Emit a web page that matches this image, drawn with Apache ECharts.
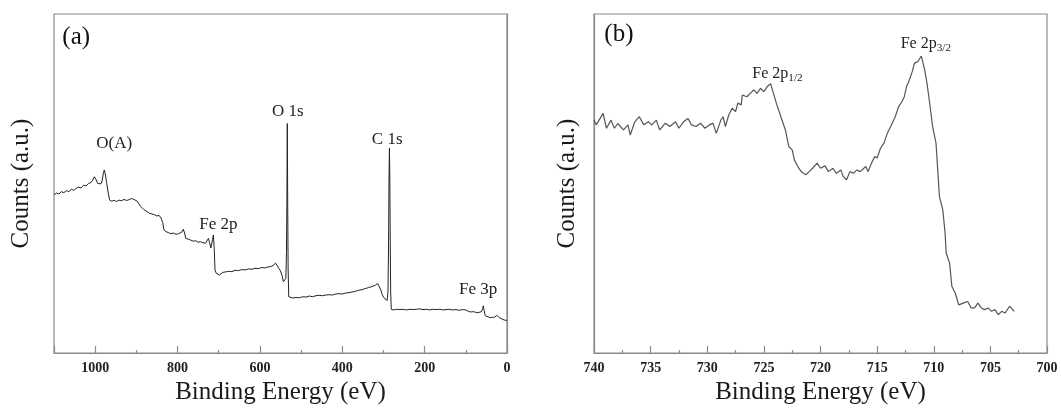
<!DOCTYPE html>
<html><head><meta charset="utf-8">
<script src="https://cdn.jsdelivr.net/npm/echarts@6/dist/echarts.min.js"></script>
<style>html,body{margin:0;padding:0;background:#fff}#c{width:1061px;height:410px}</style>
</head><body><div id="c"></div>
<script>
// Panel (a): XPS survey spectrum
const surveyEnergy = [1100,1094,1088,1082,1076,1070,1064,1058,1052,1046,1040,1034,1028,1022,1016,1010,1006,1002,998,994,990,986,983,980,978,975,972,968,965,960,954,948,942,936,930,924,918,912,906,902,898,894,890,886,882,878,874,868,862,856,850,845,840,836,833,828,822,816,810,804,798,794,790,786,783,780,774,768,762,756,750,744,738,732,728,725,722,719,717,715,713,711,709,706,702,698,694,690,684,676,668,660,652,644,636,628,620,612,604,596,588,580,574,568,562,558,554,550,546,543,540,537,535.5,534.5,533.5,532.5,531.5,530,526,520,512,504,496,488,480,472,464,456,448,440,432,424,416,408,400,392,384,376,368,360,352,344,336,328,320,314,310,306,303,299,295,291,289,287.5,286.5,285.5,284.5,283.5,282.5,281,276,268,260,252,244,236,228,220,212,204,196,188,180,172,164,156,148,140,132,124,116,108,100,94,88,82,76,70,66,62,59,57.5,55.5,53,50,45,40,35,30,27,25,22,18,14,10,6,3,0];
const surveyCounts = [46.6,47.2,46.9,47.6,47.3,47.9,47.6,48.3,48.0,48.6,48.9,48.7,49.5,49.3,50.0,50.3,51.0,52.0,51.2,50.0,49.6,49.9,50.8,53.2,54.0,52.5,50.0,47.0,45.1,44.8,45.0,44.7,45.1,44.9,45.3,45.0,45.2,45.6,45.3,45.6,44.8,44.0,43.3,43.0,42.3,42.0,41.7,41.2,41.0,40.8,40.4,40.6,39.8,38.5,36.3,35.8,35.5,35.2,35.4,35.0,35.2,35.0,35.6,36.5,35.4,33.8,33.6,33.3,33.0,33.1,32.7,32.8,32.5,32.4,32.1,33.8,32.5,31.0,31.5,33.5,34.8,31.0,24.5,23.5,23.6,23.0,23.4,23.8,23.9,24.1,24.0,24.4,24.3,24.6,24.5,24.8,24.7,25.0,24.9,25.2,25.1,25.4,25.5,25.8,26.5,26.0,25.0,24.2,22.8,21.0,21.5,22.0,30,44,67.7,44,25,16.6,16.1,16.2,16.4,16.3,16.6,16.5,16.8,16.6,16.9,17.0,16.9,17.1,17.2,17.1,17.4,17.5,17.4,17.7,17.8,18.0,18.2,18.5,18.7,19.0,19.3,19.6,20.0,20.5,20.3,18.5,17.2,16.3,16.0,15.5,18,33,51.6,60.4,51,33,18,12.9,12.7,12.9,12.8,12.9,12.7,12.9,12.8,12.9,13.0,12.8,12.9,12.7,12.9,12.8,12.9,12.7,12.8,12.9,12.7,12.8,12.6,12.8,12.7,12.3,12.1,12.2,12.0,11.9,11.9,12.2,13.2,13.9,12.5,11.0,10.5,10.6,10.4,10.6,10.5,10.9,11.1,10.6,10.4,10.2,9.9,9.9,9.6,9.7];

// Panel (b): Fe 2p high-resolution spectrum
const fe2pEnergy = [740.0,739.8,739.2,738.9,738.5,738.2,737.9,737.4,737.0,736.8,736.4,736.0,735.6,735.2,734.9,734.5,734.2,733.7,733.3,732.8,732.5,732.1,731.7,731.4,731.0,730.6,730.2,729.8,729.5,729.2,728.8,728.6,728.4,728.1,727.8,727.5,727.3,727.0,726.9,726.5,726.2,725.9,725.6,725.3,725.0,724.7,724.4,724.2,723.9,723.5,723.1,722.8,722.5,722.3,722.0,721.7,721.3,721.0,720.7,720.3,720.0,719.6,719.3,718.9,718.6,718.2,718.0,717.7,717.4,717.1,716.8,716.5,716.0,715.8,715.5,715.2,715.0,714.7,714.4,714.1,713.8,713.6,713.4,713.1,712.8,712.6,712.4,712.2,711.9,711.7,711.4,711.3,711.1,710.8,710.6,710.4,710.1,709.8,709.5,709.2,709.0,708.9,708.6,708.4,708.1,707.8,707.4,707.0,706.7,706.4,706.1,705.8,705.5,705.2,704.9,704.6,704.3,704.0,703.7,703.3,702.9];
const fe2pCounts = [68.7,67.3,70.7,66.3,68.7,66.3,67.7,65.8,67.3,64.3,68.2,69.7,67.3,68.2,67.3,68.7,65.8,67.8,66.8,68.2,66.3,68.2,69.2,67.3,66.8,67.8,66.3,67.3,67.8,64.8,68.7,69.7,66.8,70.2,72.2,71.2,73.7,73.2,76.1,75.6,76.6,77.6,76.6,78.1,77.1,78.6,79.4,77.1,73.7,69.7,65.8,60.9,59.9,56.9,55.0,53.5,52.6,53.5,54.5,56.0,54.5,55.2,53.5,54.5,53.0,54.0,52.1,51.1,53.5,53.0,54.0,53.5,55.0,53.5,56.0,58.0,57.5,60.4,61.9,64.8,66.8,68.3,69.7,72.7,74.2,75.6,78.6,80.1,83.0,85.5,86.0,86.4,87.6,83.5,79.6,74.7,66.8,61.9,46.2,42.2,35.4,29.5,26.5,19.6,17.7,14.2,14.7,15.2,13.3,13.3,14.7,13.3,12.8,13.3,12.3,12.8,11.3,12.3,11.8,13.8,12.3];

// Axis settings
const surveyRange = [0, 1100];
const surveyTickStep = 200;
const fe2pRange = [700, 740];
const fe2pTickStep = 5;
const xTitle = 'Binding Energy (eV)';
const yTitle = 'Counts (a.u.)';

// Peak annotations: [label, energy, counts]
const surveyNotes = [['(a)', 1046, 93.2, 'big'], ['O(A)', 954, 61.7], ['Fe 2p', 701, 37.8], ['O 1s', 532, 71.1], ['C 1s', 291, 63.1], ['Fe 3p', 70, 18.6]];
const fe2pNotes = [['(b)', 737.8, 94.1, 'big'], ['Fe 2p|1/2', 723.8, 82.3], ['Fe 2p|3/2', 710.7, 91.2]];

const FONT = 'Liberation Serif';
const AX = '#8a8a8a';

function xAxisCfg(gi, range, step) {
  return {
    type: 'value', gridIndex: gi, min: range[0], max: range[1], interval: step, inverse: true,
    name: xTitle, nameLocation: 'middle', nameGap: 27,
    nameTextStyle: {fontFamily: FONT, fontSize: 25, color: '#1a1a1a'},
    axisLine: {show: true, lineStyle: {color: AX, width: 1.2}},
    axisTick: {show: true, inside: true, length: 7, lineStyle: {color: AX, width: 1.2}},
    minorTick: {show: true, splitNumber: 2, length: 3, lineStyle: {color: AX, width: 1.2}},
    splitLine: {show: false},
    axisLabel: {fontFamily: FONT, fontWeight: 'bold', fontSize: 14, color: '#222', margin: 8,
      formatter: v => ((v - range[0]) % step === 0 ? String(v) : '')}
  };
}
function yAxisCfg(gi, gap) {
  return {
    type: 'value', gridIndex: gi, min: 0, max: 100,
    name: yTitle, nameLocation: 'middle', nameGap: gap, nameRotate: 90,
    nameTextStyle: {fontFamily: FONT, fontSize: 25, color: '#1a1a1a'},
    axisLine: {show: true, lineStyle: {color: AX, width: 1.2}},
    axisTick: {show: false}, axisLabel: {show: false}, splitLine: {show: false}
  };
}
function notes(list, size) {
  return {
    symbol: 'circle', symbolSize: 0, itemStyle: {color: 'transparent'},
    data: list.map(n => {
      const parts = n[0].split('|');
      const txt = parts.length > 1 ? '{m|' + parts[0] + '}{s|' + parts[1] + '}' : '{' + (n[3] ? 'b' : 'm') + '|' + parts[0] + '}';
      return {coord: [n[1], n[2]], value: txt};
    }),
    label: {show: true, position: 'inside', formatter: p => p.value,
      rich: {
        m: {fontFamily: FONT, fontSize: size, color: '#222'},
        b: {fontFamily: FONT, fontSize: 25, color: '#111'},
        s: {fontFamily: FONT, fontSize: size * 0.7, color: '#222', padding: [9, 0, 0, 0]}
      }}
  };
}

const chart = echarts.init(document.getElementById('c'), null, {renderer: 'canvas'});
chart.setOption({
  animation: false,
  backgroundColor: '#fff',
  textStyle: {fontFamily: FONT},
  grid: [
    {left: 54, right: 554, top: 14, bottom: 57, show: true, borderColor: AX, borderWidth: 1.2, backgroundColor: 'transparent'},
    {left: 594, right: 14, top: 14, bottom: 57, show: true, borderColor: AX, borderWidth: 1.2, backgroundColor: 'transparent'}
  ],
  xAxis: [xAxisCfg(0, surveyRange, surveyTickStep), xAxisCfg(1, fe2pRange, fe2pTickStep)],
  yAxis: [yAxisCfg(0, 20), yAxisCfg(1, 14)],
  series: [
    {type: 'line', xAxisIndex: 0, yAxisIndex: 0, showSymbol: false, symbol: 'none',
     lineStyle: {color: '#222', width: 1}, data: surveyEnergy.map((e, i) => [e, surveyCounts[i]]),
     markPoint: notes(surveyNotes, 17)},
    {type: 'line', xAxisIndex: 1, yAxisIndex: 1, showSymbol: false, symbol: 'none',
     lineStyle: {color: '#555', width: 1.2}, data: fe2pEnergy.map((e, i) => [e, fe2pCounts[i]]),
     markPoint: notes(fe2pNotes, 16)}
  ]
});
</script></body></html>
